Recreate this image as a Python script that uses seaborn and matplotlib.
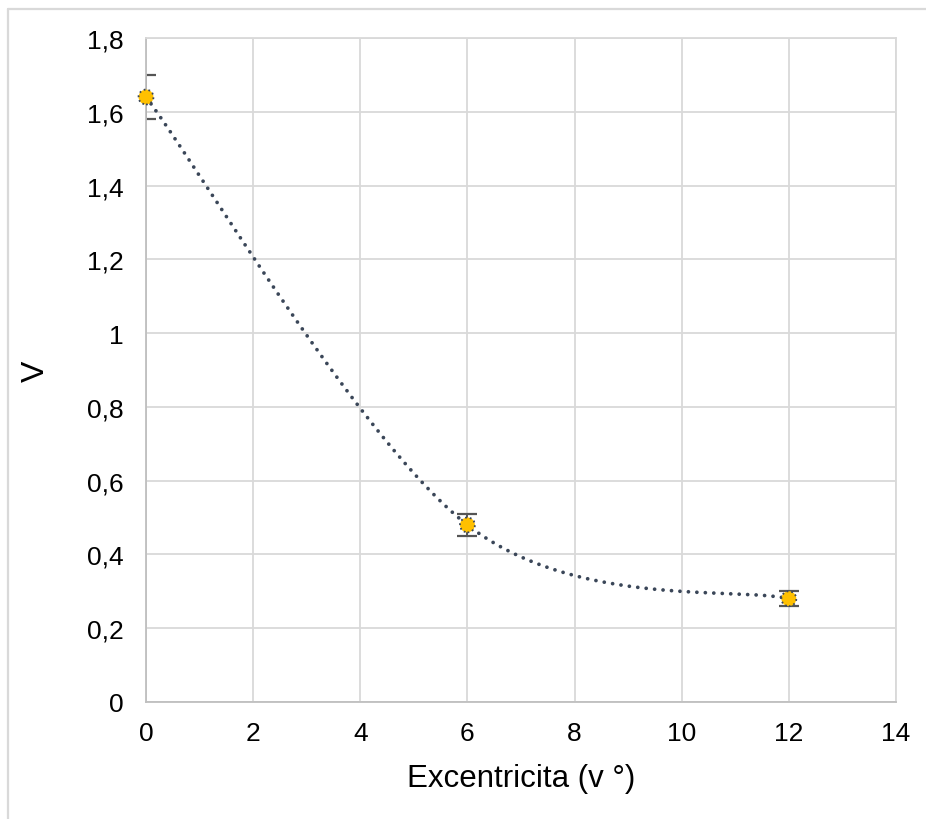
import numpy as np
import pandas as pd
import matplotlib
matplotlib.use("Agg")
import matplotlib.pyplot as plt
from matplotlib.lines import Line2D
import seaborn as sns

# ---- data ----
excentricita = [0, 6, 12]
v_values = [1.64, 0.48, 0.28]
v_errors = [0.06, 0.03, 0.02]
x_ticks = [0, 2, 4, 6, 8, 10, 12, 14]
y_ticks = [0, 0.2, 0.4, 0.6, 0.8, 1.0, 1.2, 1.4, 1.6, 1.8]
y_tick_labels = ["0", "0,2", "0,4", "0,6", "0,8", "1", "1,2", "1,4", "1,6", "1,8"]
x_label = "Excentricita (v °)"
y_label = "V"

sns.set_theme(style="white")
plt.rcParams["font.family"] = ["Liberation Sans", "DejaVu Sans"]


def smooth_curve(xs, ys, n=200):
    """Excel-like smoothed line (Catmull-Rom Bezier, tension 1/6) through data points."""
    p = np.column_stack([xs, ys]).astype(float)
    out = []
    for i in range(len(p) - 1):
        p0 = p[i - 1] if i > 0 else p[i]
        p1 = p[i]
        p2 = p[i + 1]
        p3 = p[i + 2] if i + 2 < len(p) else p[i + 1]
        c1 = p1 + (p2 - p0) / 6.0
        c2 = p2 - (p3 - p1) / 6.0
        t = np.linspace(0, 1, n)[:, None]
        seg = ((1 - t) ** 3) * p1 + 3 * ((1 - t) ** 2) * t * c1 + 3 * (1 - t) * t ** 2 * c2 + t ** 3 * p2
        out.append(seg if i == 0 else seg[1:])
    out = np.vstack(out)
    return out[:, 0], out[:, 1]


df = pd.DataFrame({"x": excentricita, "v": v_values, "err": v_errors})
cx, cy = smooth_curve(df["x"].values, df["v"].values)
curve = pd.DataFrame({"x": cx, "v": cy})

fig = plt.figure(figsize=(9.26, 8.2), dpi=100)
ax = fig.add_axes([146 / 926, 1 - 703 / 820, (896 - 146) / 926, (703 - 39) / 820])

grid_c = "#d9d9d9"
ax.set_xlim(0, 14)
ax.set_ylim(0, 1.8)
ax.set_xticks(x_ticks)
ax.set_xticklabels([str(t) for t in x_ticks])
ax.set_yticks(y_ticks)
ax.set_yticklabels(y_tick_labels)
ax.grid(True, color=grid_c, linewidth=1.3)
ax.set_axisbelow(True)
for s in ["top", "right"]:
    ax.spines[s].set_color(grid_c)
    ax.spines[s].set_linewidth(1.3)
for s in ["left", "bottom"]:
    ax.spines[s].set_color("#bfbfbf")
    ax.spines[s].set_linewidth(1.3)
ax.tick_params(axis="both", length=0, labelsize=19, colors="#000000")
ax.tick_params(axis="y", pad=16)
ax.tick_params(axis="x", pad=14)

sns.lineplot(data=curve, x="x", y="v", sort=False, estimator=None, ax=ax,
             color="#3A4658", linewidth=2.7, linestyle=(0, (0.01, 2.25)),
             dash_capstyle="round", zorder=3)

ax.errorbar(df["x"], df["v"], yerr=df["err"], fmt="none", ecolor="#555555",
            elinewidth=1.4, capsize=7, capthick=1.6, zorder=2)

sns.scatterplot(data=df, x="x", y="v", ax=ax, s=115, color="#FFC000",
                edgecolor="#3A4658", linewidth=1.3, linestyle=":", zorder=4,
                clip_on=False, legend=False)

ax.set_xlabel(x_label, fontsize=22.5, labelpad=13, color="#000000")
ax.set_ylabel(y_label, fontsize=23, labelpad=26, color="#000000")

# chart-area border (top and left visible)
fig.add_artist(Line2D([7.5 / 926, 7.5 / 926], [0, 1 - 9.5 / 820], transform=fig.transFigure,
                      color=grid_c, linewidth=1.6))
fig.add_artist(Line2D([7.5 / 926, 1], [1 - 9.5 / 820, 1 - 9.5 / 820], transform=fig.transFigure,
                      color=grid_c, linewidth=1.6))

fig.savefig("out.png", dpi=100)
